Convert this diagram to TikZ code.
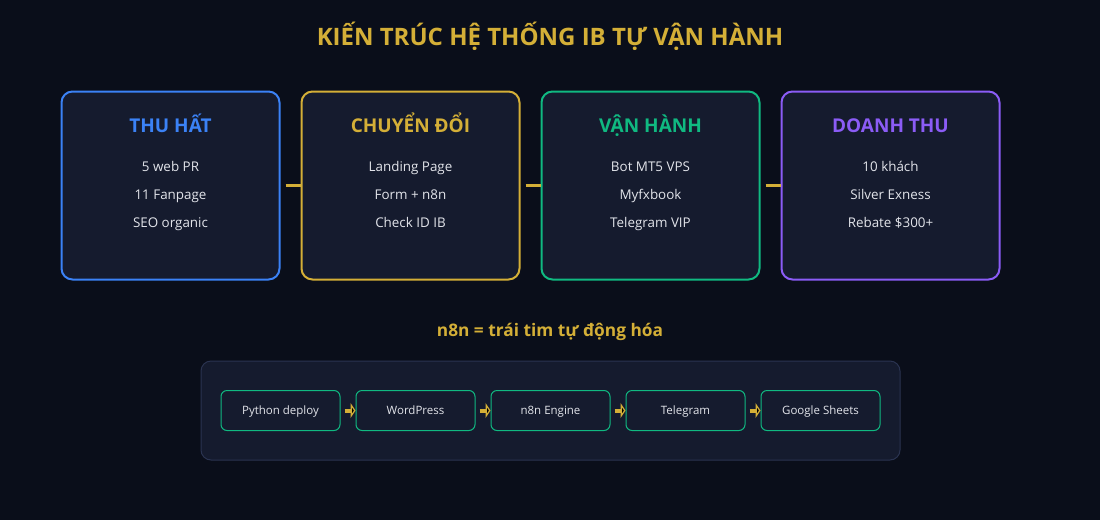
\documentclass[tikz,border=0pt]{standalone}
\usepackage{fontspec}
\setmainfont{Open Sans}
\usetikzlibrary{positioning,arrows.meta}
\definecolor{bg}{HTML}{0A0E1A}
\definecolor{card}{HTML}{151B2E}
\definecolor{gold}{HTML}{D4AF37}
\definecolor{cblue}{HTML}{3B82F6}
\definecolor{cgreen}{HTML}{10B981}
\definecolor{cpurple}{HTML}{8B5CF6}
\definecolor{txt}{HTML}{E2E4EA}
\definecolor{edgeline}{HTML}{2A3350}

\begin{document}
\begin{tikzpicture}[x=1pt,y=-1pt,
        stage/.style={rectangle,draw,line width=2pt,fill=card,rounded corners=11pt,
            minimum width=218pt,minimum height=188pt,inner sep=0pt},
        stagetitle/.style={font=\fontsize{19}{22}\selectfont\bfseries,text height=13pt,text depth=0pt},
        items/.style={text=txt,align=center,font=\fontsize{13.4}{28}\selectfont,
            text height=10pt,text depth=3pt,inner sep=0pt},
        tool/.style={rectangle,draw=cgreen,line width=1pt,fill=card,rounded corners=6pt,
            minimum width=119pt,minimum height=40pt,inner sep=0pt,text=txt,
            text height=8.5pt,text depth=1.5pt,font=\fontsize{11.5}{13}\selectfont}]

    \fill[bg] (0,0) rectangle (1100,520);
    \useasboundingbox (0,0) rectangle (1100,520);

    \node[text=gold,font=\fontsize{24}{28}\selectfont\bfseries] (title) at (550,36) {KIẾN TRÚC HỆ THỐNG IB TỰ VẬN HÀNH};

    % four stages
    \node[stage,draw=cblue] (s1) at (170.5,185.5) {};
    \node[stage,draw=gold] (s2) at (410.5,185.5) {};
    \node[stage,draw=cgreen] (s3) at (650.5,185.5) {};
    \node[stage,draw=cpurple] (s4) at (890.5,185.5) {};

    \node[stagetitle,text=cblue] (t1) at (170.5,126) {THU HẤT};
    \node[stagetitle,text=gold] (t2) at (410.5,126) {CHUYỂN ĐỔI};
    \node[stagetitle,text=cgreen] (t3) at (650.5,126) {VẬN HÀNH};
    \node[stagetitle,text=cpurple] (t4) at (890.5,126) {DOANH THU};

    \node[items] (l1) at (170.5,224) {5 web PR\\11 Fanpage\\SEO organic};
    \node[items] (l2) at (410.5,224) {Landing Page\\Form + n8n\\Check ID IB};
    \node[items] (l3) at (650.5,224) {Bot MT5 VPS\\Myfxbook\\Telegram VIP};
    \node[items] (l4) at (890.5,224) {10 khách\\Silver Exness\\Rebate \$300+};

    \path[-,draw=gold,line width=3pt,shorten <=5pt]
    (s1) edge (s2)
    (s2) edge (s3)
    (s3) edge (s4);

    % automation panel
    \node[text=gold,font=\fontsize{17.3}{20}\selectfont\bfseries] (sub) at (550,332) {n8n = trái tim tự động hóa};
    \node[rectangle,draw=edgeline,line width=1pt,fill=card,rounded corners=10pt,
        minimum width=699pt,minimum height=99pt] (panel) at (550.5,410.5) {};

    \node[tool] (p1) at (280.5,410.5) {Python deploy};
    \node[tool] (p2) at (415.5,410.5) {WordPress};
    \node[tool] (p3) at (550.5,410.5) {n8n Engine};
    \node[tool] (p4) at (685.5,410.5) {Telegram};
    \node[tool] (p5) at (820.5,410.5) {Google Sheets};

    \path[-{Triangle[length=5pt,width=15pt]},draw=gold,line width=4pt,shorten <=4pt]
    (p1) edge (p2)
    (p2) edge (p3)
    (p3) edge (p4)
    (p4) edge (p5);

\end{tikzpicture}
\end{document}
